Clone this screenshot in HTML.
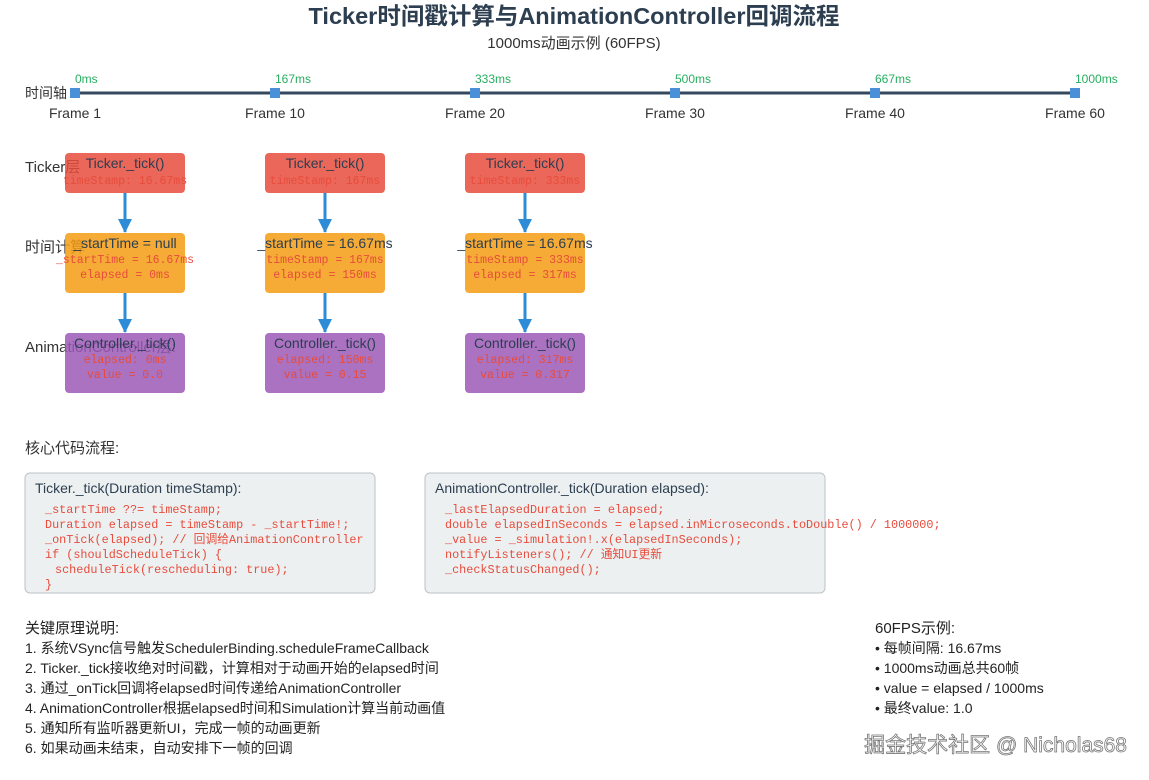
<!DOCTYPE html>
<html><head><meta charset="utf-8"><style>
body{margin:0;background:#fff;}
svg{display:block;font-family:"Liberation Sans","Noto Sans CJK SC",sans-serif;}
.m{font-family:"Liberation Mono","Noto Sans CJK SC",monospace;}
</style></head><body>
<svg width="1149" height="780" viewBox="0 0 1149 780" xmlns="http://www.w3.org/2000/svg">
<defs><marker id="ar" markerWidth="14" markerHeight="14" refX="13" refY="7" orient="auto" markerUnits="userSpaceOnUse"><path d="M0,0 L14,7 L0,14 z" fill="#2e8bd6"/></marker></defs>
<text x="574" y="24" text-anchor="middle" font-size="23.5" font-weight="bold" fill="#2c3e50">Ticker时间戳计算与AnimationController回调流程</text>
<text x="574" y="48" text-anchor="middle" font-size="15" fill="#333">1000ms动画示例 (60FPS)</text>

<text x="25" y="98" font-size="14" fill="#333">时间轴</text>
<line x1="75" y1="93" x2="1075" y2="93" stroke="#34495e" stroke-width="3"/>
<g fill="#4a90d9">
<rect x="70" y="88" width="10" height="10"/><rect x="270" y="88" width="10" height="10"/><rect x="470" y="88" width="10" height="10"/><rect x="670" y="88" width="10" height="10"/><rect x="870" y="88" width="10" height="10"/><rect x="1070" y="88" width="10" height="10"/>
</g>
<g font-size="12" fill="#27ae60">
<text x="75" y="83">0ms</text><text x="275" y="83">167ms</text><text x="475" y="83">333ms</text><text x="675" y="83">500ms</text><text x="875" y="83">667ms</text><text x="1075" y="83">1000ms</text>
</g>
<g font-size="14" fill="#333" text-anchor="middle">
<text x="75" y="118">Frame 1</text><text x="275" y="118">Frame 10</text><text x="475" y="118">Frame 20</text><text x="675" y="118">Frame 30</text><text x="875" y="118">Frame 40</text><text x="1075" y="118">Frame 60</text>
</g>

<g font-size="15" fill="#333">
<text x="25" y="172">Ticker层</text>
<text x="25" y="252">时间计算</text>
<text x="25" y="352">AnimationController层:</text>
</g>

<g>
<rect x="65" y="153" width="120" height="40" rx="4" fill="#e74c3c" opacity="0.85"/>
<rect x="65" y="233" width="120" height="60" rx="4" fill="#f39c12" opacity="0.85"/>
<rect x="65" y="333" width="120" height="60" rx="4" fill="#9b59b6" opacity="0.85"/>
<line x1="125" y1="193" x2="125" y2="232" stroke="#2e8bd6" stroke-width="3" marker-end="url(#ar)"/>
<line x1="125" y1="293" x2="125" y2="332" stroke="#2e8bd6" stroke-width="3" marker-end="url(#ar)"/>
<g text-anchor="middle" font-size="14" fill="#2c3e50"><text x="125" y="168">Ticker._tick()</text><text x="125" y="248">_startTime = null</text><text x="125" y="348">Controller._tick()</text></g>
<g text-anchor="middle" font-size="11.5" fill="#e74c3c" class="m"><text x="125" y="184">timeStamp: 16.67ms</text><text x="125" y="263">_startTime = 16.67ms</text><text x="125" y="278">elapsed = 0ms</text><text x="125" y="363">elapsed: 0ms</text><text x="125" y="378">value = 0.0</text></g>
</g>
<g>
<rect x="265" y="153" width="120" height="40" rx="4" fill="#e74c3c" opacity="0.85"/>
<rect x="265" y="233" width="120" height="60" rx="4" fill="#f39c12" opacity="0.85"/>
<rect x="265" y="333" width="120" height="60" rx="4" fill="#9b59b6" opacity="0.85"/>
<line x1="325" y1="193" x2="325" y2="232" stroke="#2e8bd6" stroke-width="3" marker-end="url(#ar)"/>
<line x1="325" y1="293" x2="325" y2="332" stroke="#2e8bd6" stroke-width="3" marker-end="url(#ar)"/>
<g text-anchor="middle" font-size="14" fill="#2c3e50"><text x="325" y="168">Ticker._tick()</text><text x="325" y="248">_startTime = 16.67ms</text><text x="325" y="348">Controller._tick()</text></g>
<g text-anchor="middle" font-size="11.5" fill="#e74c3c" class="m"><text x="325" y="184">timeStamp: 167ms</text><text x="325" y="263">timeStamp = 167ms</text><text x="325" y="278">elapsed = 150ms</text><text x="325" y="363">elapsed: 150ms</text><text x="325" y="378">value = 0.15</text></g>
</g>
<g>
<rect x="465" y="153" width="120" height="40" rx="4" fill="#e74c3c" opacity="0.85"/>
<rect x="465" y="233" width="120" height="60" rx="4" fill="#f39c12" opacity="0.85"/>
<rect x="465" y="333" width="120" height="60" rx="4" fill="#9b59b6" opacity="0.85"/>
<line x1="525" y1="193" x2="525" y2="232" stroke="#2e8bd6" stroke-width="3" marker-end="url(#ar)"/>
<line x1="525" y1="293" x2="525" y2="332" stroke="#2e8bd6" stroke-width="3" marker-end="url(#ar)"/>
<g text-anchor="middle" font-size="14" fill="#2c3e50"><text x="525" y="168">Ticker._tick()</text><text x="525" y="248">_startTime = 16.67ms</text><text x="525" y="348">Controller._tick()</text></g>
<g text-anchor="middle" font-size="11.5" fill="#e74c3c" class="m"><text x="525" y="184">timeStamp: 333ms</text><text x="525" y="263">timeStamp = 333ms</text><text x="525" y="278">elapsed = 317ms</text><text x="525" y="363">elapsed: 317ms</text><text x="525" y="378">value = 0.317</text></g>
</g>

<text x="25" y="453" font-size="15" fill="#333">核心代码流程:</text>
<rect x="25" y="473" width="350" height="120" rx="5" fill="#ecf0f1" stroke="#bdc3c7"/>
<rect x="425" y="473" width="400" height="120" rx="5" fill="#ecf0f1" stroke="#bdc3c7"/>
<text x="35" y="493" font-size="14" fill="#2c3e50">Ticker._tick(Duration timeStamp):</text>
<text x="435" y="493" font-size="14" fill="#2c3e50">AnimationController._tick(Duration elapsed):</text>
<g font-size="11.8" fill="#e74c3c" class="m">
<text x="45" y="513">_startTime ??= timeStamp;</text>
<text x="45" y="528">Duration elapsed = timeStamp - _startTime!;</text>
<text x="45" y="543">_onTick(elapsed); // 回调给AnimationController</text>
<text x="45" y="558">if (shouldScheduleTick) {</text>
<text x="55" y="573">scheduleTick(rescheduling: true);</text>
<text x="45" y="588">}</text>
<text x="445" y="513">_lastElapsedDuration = elapsed;</text>
<text x="445" y="528">double elapsedInSeconds = elapsed.inMicroseconds.toDouble() / 1000000;</text>
<text x="445" y="543">_value = _simulation!.x(elapsedInSeconds);</text>
<text x="445" y="558">notifyListeners(); // 通知UI更新</text>
<text x="445" y="573">_checkStatusChanged();</text>
</g>

<g font-size="14" fill="#222">
<text x="25" y="633" font-size="15">关键原理说明:</text>
<text x="25" y="653">1. 系统VSync信号触发SchedulerBinding.scheduleFrameCallback</text>
<text x="25" y="673">2. Ticker._tick接收绝对时间戳，计算相对于动画开始的elapsed时间</text>
<text x="25" y="693">3. 通过_onTick回调将elapsed时间传递给AnimationController</text>
<text x="25" y="713">4. AnimationController根据elapsed时间和Simulation计算当前动画值</text>
<text x="25" y="733">5. 通知所有监听器更新UI，完成一帧的动画更新</text>
<text x="25" y="753">6. 如果动画未结束，自动安排下一帧的回调</text>
<text x="875" y="633" font-size="15">60FPS示例:</text>
<text x="875" y="653">• 每帧间隔: 16.67ms</text>
<text x="875" y="673">• 1000ms动画总共60帧</text>
<text x="875" y="693">• value = elapsed / 1000ms</text>
<text x="875" y="713">• 最终value: 1.0</text>
</g>
<text x="1127" y="752" text-anchor="end" font-size="21" fill="#fff" stroke="#777" stroke-width="0.8">掘金技术社区 @ Nicholas68</text>
</svg>
</body></html>
